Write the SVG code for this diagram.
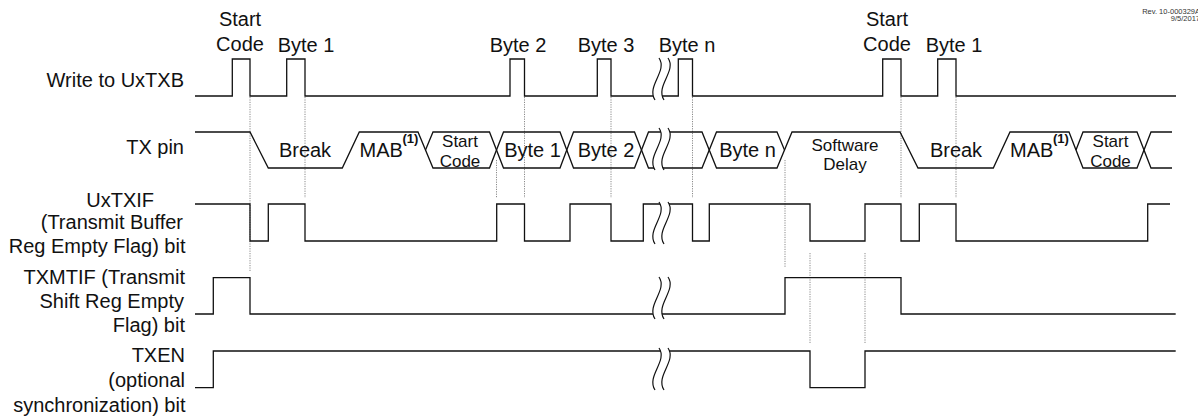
<svg xmlns="http://www.w3.org/2000/svg" xmlns:xlink="http://www.w3.org/1999/xlink" width="1198" height="418" viewBox="0 0 1198 418">
<style>
  .t{font-family:"Liberation Sans",Arial,sans-serif;font-size:20px;fill:#111}
  .s{font-family:"Liberation Sans",Arial,sans-serif;font-size:17px;fill:#111}
  .sup{font-family:"Liberation Sans",Arial,sans-serif;font-size:13px;font-weight:bold;fill:#111}
  .rev{font-family:"Liberation Sans",Arial,sans-serif;font-size:7.5px;fill:#333}
  .w{fill:none;stroke:#111;stroke-width:1.3;stroke-linejoin:miter}
  .g{fill:none;stroke:#8a8a8a;stroke-width:1;stroke-dasharray:1.2 1.2}
  .bc{fill:none;stroke:#111;stroke-width:1.2}
</style>
<defs>
  <g id="brk">
    <path d="M659,0 C668,13 646,28 655,42 L664,42 C655,28 677,13 668,0 Z" fill="#fff" stroke="none"/>
    <path class="bc" d="M659,0 C668,13 646,28 655,42"/>
    <path class="bc" d="M668,0 C677,13 655,28 664,42"/>
  </g>
</defs>
<rect width="1198" height="418" fill="#fff"/>

<g id="guides">
  <line class="g" x1="250" y1="97" x2="250" y2="272"/>
  <line class="g" x1="305" y1="97" x2="305" y2="198"/>
  <line class="g" x1="496.5" y1="160" x2="496.5" y2="198"/>
  <line class="g" x1="524.5" y1="97" x2="524.5" y2="198"/>
  <line class="g" x1="611" y1="97" x2="611" y2="198"/>
  <line class="g" x1="692.5" y1="97" x2="692.5" y2="198"/>
  <line class="g" x1="785" y1="160" x2="785" y2="267"/>
  <line class="g" x1="901" y1="97" x2="901" y2="198"/>
  <line class="g" x1="956" y1="97" x2="956" y2="198"/>
  <line class="g" x1="810" y1="253" x2="810" y2="343"/>
  <line class="g" x1="865" y1="253" x2="865" y2="343"/>
</g>

<g id="sig-write">
  <text class="t" x="184" y="87" text-anchor="end">Write to UxTXB</text>
  <path class="w" d="M195,96 H232.3 V59 H250 V96 H286.7 V59 H305 V96 H510 V59 H524.5 V96 H597.3 V59 H611 V96 H678.3 V59 H692.5 V96 H882.7 V59 H901 V96 H937.7 V59 H956 V96 H1176"/>
  <use xlink:href="#brk" href="#brk" y="58"/>
  <text class="t" x="240" y="25.5" text-anchor="middle">Start</text>
  <text class="t" x="240" y="51" text-anchor="middle">Code</text>
  <text class="t" x="306" y="52" text-anchor="middle">Byte 1</text>
  <text class="t" x="518" y="52" text-anchor="middle">Byte 2</text>
  <text class="t" x="606" y="52" text-anchor="middle">Byte 3</text>
  <text class="t" x="687" y="52" text-anchor="middle">Byte n</text>
  <text class="t" x="887" y="25.5" text-anchor="middle">Start</text>
  <text class="t" x="887" y="51" text-anchor="middle">Code</text>
  <text class="t" x="954" y="52" text-anchor="middle">Byte 1</text>
</g>

<g id="sig-tx">
  <text class="t" x="184" y="154" text-anchor="end">TX pin</text>
  <path class="w" d="M195,132 H250 L268.3,168 H342.3 L359.3,132 H418 L433,168 H489.5 L503.5,132 H560 L573.5,168 H634.5 L648.5,132 H702 L716.5,168 H777 L792,132 H900 L918,168 H993.3 L1010,132 H1069 L1083,168 H1137 L1151,132 H1172"/>
  <path class="w" d="M425.5,150 L433,132 H489.5 L503.5,168 H560 L573.5,132 H634.5 L648.5,168 H702 L716.5,132 H777 L784.5,150"/>
  <path class="w" d="M1076,150 L1083,132 H1137 L1151,168 H1172"/>
  <use xlink:href="#brk" href="#brk" y="128"/>
  <text class="t" x="305" y="157" text-anchor="middle">Break</text>
  <text class="t" x="359.5" y="157">MAB</text>
  <text class="sup" x="402.5" y="143">(1)</text>
  <text class="s" x="460" y="146.5" text-anchor="middle">Start</text>
  <text class="s" x="460" y="166.5" text-anchor="middle">Code</text>
  <text class="t" x="532.5" y="156.5" text-anchor="middle">Byte 1</text>
  <text class="t" x="606" y="156.5" text-anchor="middle">Byte 2</text>
  <text class="t" x="747.5" y="156.5" text-anchor="middle">Byte n</text>
  <text class="s" x="845" y="151" text-anchor="middle">Software</text>
  <text class="s" x="845" y="169.5" text-anchor="middle">Delay</text>
  <text class="t" x="956" y="157" text-anchor="middle">Break</text>
  <text class="t" x="1010" y="157">MAB</text>
  <text class="sup" x="1053" y="143">(1)</text>
  <text class="s" x="1110.5" y="146.5" text-anchor="middle">Start</text>
  <text class="s" x="1110.5" y="166.5" text-anchor="middle">Code</text>
</g>

<g id="sig-uxtxif">
  <text class="t" x="154" y="207" text-anchor="end">UxTXIF</text>
  <text class="t" x="183" y="229" text-anchor="end">(Transmit Buffer</text>
  <text class="t" x="185.5" y="252.5" text-anchor="end">Reg Empty Flag) bit</text>
  <path class="w" d="M195,204 H250 V241 H268.3 V204 H305 V241 H496.7 V204 H524.5 V241 H570 V204 H611 V241 H643.3 V204 H692.5 V241 H709.3 V204 H810 V241 H865 V204 H901 V241 H919.3 V204 H956 V241 H1147.7 V204 H1170"/>
  <use xlink:href="#brk" href="#brk" y="202"/>
</g>

<g id="sig-txmtif">
  <text class="t" x="185" y="283.5" text-anchor="end">TXMTIF (Transmit</text>
  <text class="t" x="184" y="307.5" text-anchor="end">Shift Reg Empty</text>
  <text class="t" x="185" y="331.5" text-anchor="end">Flag) bit</text>
  <path class="w" d="M195,314 H213.3 V277.7 H250 V314 H785 V277.7 H901 V314 H1175.7"/>
  <use xlink:href="#brk" href="#brk" y="277"/>
</g>

<g id="sig-txen">
  <text class="t" x="185" y="361.5" text-anchor="end">TXEN</text>
  <text class="t" x="185" y="386.5" text-anchor="end">(optional</text>
  <text class="t" x="185.5" y="411.5" text-anchor="end">synchronization) bit</text>
  <path class="w" d="M195,387.7 H213.3 V351 H810 V387.7 H865 V351 H1175.7"/>
  <use xlink:href="#brk" href="#brk" y="348"/>
</g>

<g id="rev">
  <text class="rev" x="1200" y="13.5" text-anchor="end">Rev. 10-000329A</text>
  <text class="rev" x="1200" y="21" text-anchor="end">9/5/2017</text>
</g>
</svg>
